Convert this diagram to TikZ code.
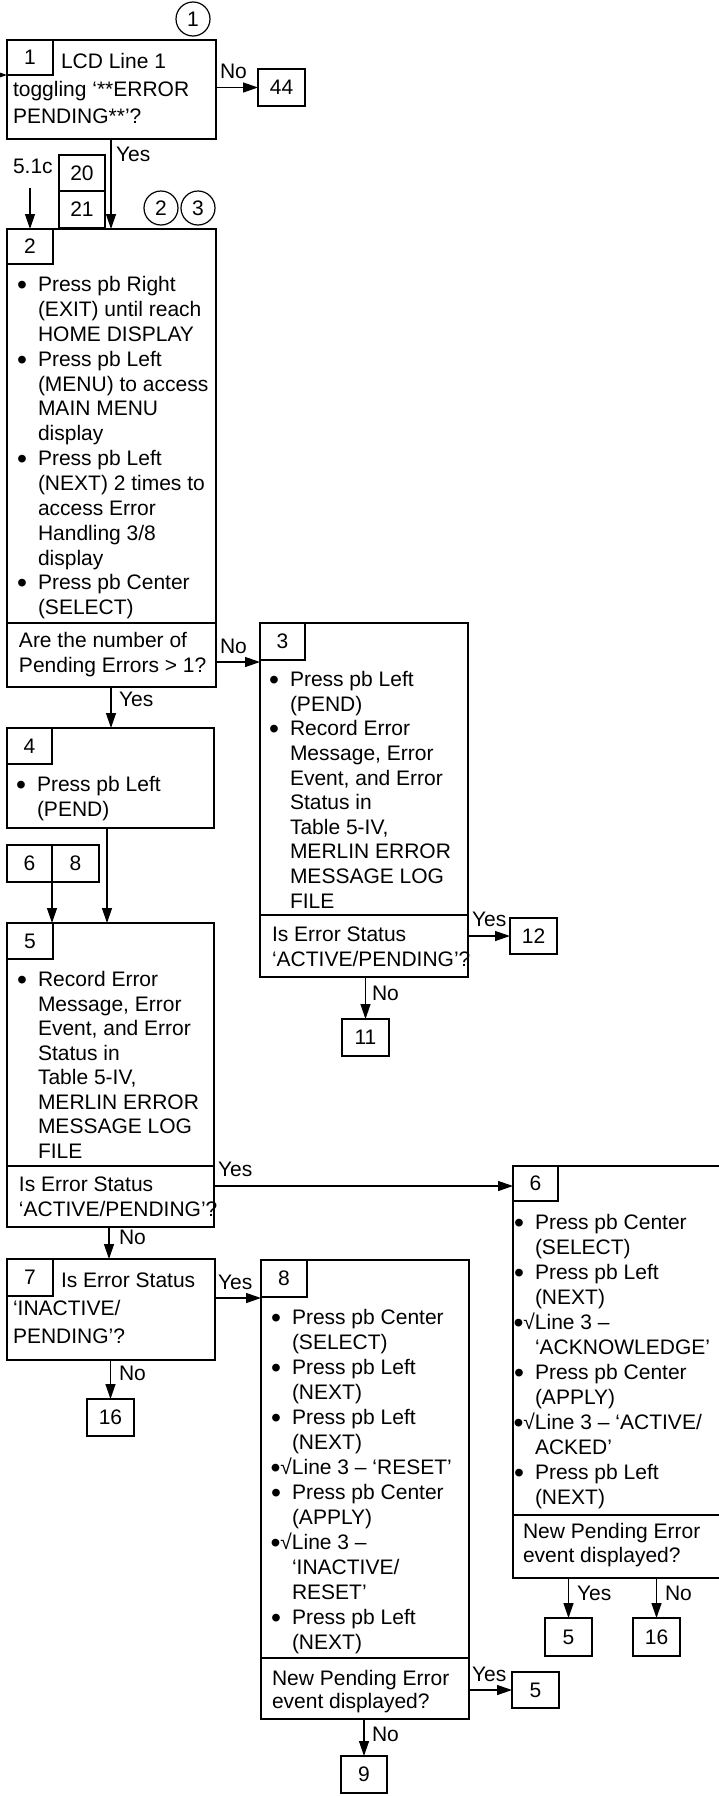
\documentclass[tikz,border=0pt]{standalone}
\usepackage{fontspec}
\setmainfont{Liberation Sans}
\usetikzlibrary{arrows.meta,calc}
\newcommand\Lines[2][24.8]{\vtop{\baselineskip=#1pt\lineskiplimit=-100pt\lineskip=0pt\halign{##\hfil\cr#2\crcr}}}
\newcommand\dotb{\raisebox{-3pt}{\scalebox{1.35}{•}}}
\newcommand\bul{\llap{\dotb\hspace{11pt}}}
\newcommand\chk{\kern-21.5pt\dotb√}
\newcommand\mk[7][frame]{\node[#1, minimum width=#5-#3, minimum height=#6-#4] (#2) at (#3,#4) {#7};}
\tikzset{
 frame/.style={draw, line width=1.9pt, inner sep=0pt, outer sep=0pt, anchor=north west},
 cell/.style={draw, line width=1.2pt, inner sep=0pt, outer sep=0pt, anchor=north west},
 small/.style={draw, line width=1.6pt, inner sep=0pt, outer sep=0pt, anchor=north west},
 txt/.style={anchor=base west, inner sep=0pt, outer sep=0pt},
 circ/.style={draw, circle, line width=1.2pt, minimum size=34pt, inner sep=0pt},
 arr/.style={line width=1.3pt, -{Triangle[length=15pt,width=10pt]}},
 ln/.style={line width=1.3pt},
 div/.style={line width=1.8pt},
}
\begin{document}
\begin{tikzpicture}[x=1pt,y=-1pt,font=\fontsize{21}{25}\selectfont]
\fill[white] (0,0) rectangle (718,1796);
\useasboundingbox (0,0) rectangle (718,1796);

% circles
\node[circ] (c1) at (193,19) {1};
\node[circ] (c2) at (161,208) {2};
\node[circ] (c3) at (198,208) {3};

% box 1
\mk{b1}{7}{40}{216}{139}{}
\mk[cell]{b1n}{7}{40}{53}{75}{1}
\node[txt] (t1) at (13,68.5) {\Lines[27.5]{\hspace*{48pt}LCD Line 1\cr toggling ‘**ERROR\cr PENDING**’?}};
\mk[small]{b44}{258}{69}{305}{106}{44}

% 20 / 21
\mk[small]{b20}{59}{155}{105}{191}{20}
\mk[small]{b21}{59}{191}{105}{228}{21}
\node[txt] (l51) at (13,173) {5.1c};
\coordinate (s51) at (30,188);

% box 2
\mk{b2}{7}{229}{216}{687}{}
\mk[cell]{b2n}{7}{229}{53}{264}{2}
\draw[div] (b2.west |- 0,623) -- (b2.east |- 0,623);
\node[txt] (t2) at (38,291.7) {\Lines[24.85]{\bul Press pb Right\cr (EXIT) until reach\cr HOME DISPLAY\cr \bul Press pb Left\cr (MENU) to access\cr MAIN MENU\cr display\cr \bul Press pb Left\cr (NEXT) 2 times to\cr access Error\cr Handling 3/8\cr display\cr \bul Press pb Center\cr (SELECT)}};
\node[txt] (q2) at (19,647.7) {\Lines[25]{Are the number of\cr Pending Errors > 1?}};

% box 3
\mk{b3}{260}{623}{468}{977}{}
\mk[cell]{b3n}{260}{623}{305}{660}{3}
\draw[div] (b3.west |- 0,915) -- (b3.east |- 0,915);
\node[txt] (t3) at (290,686.7) {\Lines[24.6]{\bul Press pb Left\cr (PEND)\cr \bul Record Error\cr Message, Error\cr Event, and Error\cr Status in\cr Table 5-IV,\cr MERLIN ERROR\cr MESSAGE LOG\cr FILE}};
\node[txt] (q3) at (272,941.7) {\Lines[25]{Is Error Status\cr ‘ACTIVE/PENDING’?}};
\mk[small]{b12}{510}{918}{557}{954}{12}
\mk[small]{b11}{342}{1019}{389}{1056}{11}

% box 4
\mk{b4}{7}{728}{214}{828}{}
\mk[cell]{b4n}{7}{728}{52}{764}{4}
\node[txt] (t4) at (37,791.7) {\Lines[25]{\bul Press pb Left\cr (PEND)}};

% 6 | 8
\mk[small]{b6a}{7}{845}{52}{882}{6}
\mk[small]{b8a}{52}{845}{99}{882}{8}

% box 5
\mk{b5}{7}{923}{214}{1227}{}
\mk[cell]{b5n}{7}{923}{53}{959}{5}
\draw[div] (b5.west |- 0,1166) -- (b5.east |- 0,1166);
\node[txt] (t5) at (38,986.7) {\Lines[24.5]{\bul Record Error\cr Message, Error\cr Event, and Error\cr Status in\cr Table 5-IV,\cr MERLIN ERROR\cr MESSAGE LOG\cr FILE}};
\node[txt] (q5) at (19,1191.7) {\Lines[24.5]{Is Error Status\cr ‘ACTIVE/PENDING’?}};

% box 7
\mk{b7}{7}{1259}{215}{1360}{}
\mk[cell]{b7n}{7}{1259}{53}{1296}{7}
\node[txt] (t7) at (13,1287.3) {\Lines[28.3]{\hspace*{48pt}Is Error Status\cr ‘INACTIVE/\cr PENDING’?}};
\mk[small]{b16}{87}{1399}{134}{1436}{16}

% box 8
\mk{b8}{261}{1260}{469}{1719}{}
\mk[cell]{b8n}{261}{1260}{307}{1297}{8}
\draw[div] (b8.west |- 0,1658) -- (b8.east |- 0,1658);
\node[txt] (t8) at (292,1324.2) {\Lines[25]{\bul Press pb Center\cr (SELECT)\cr \bul Press pb Left\cr (NEXT)\cr \bul Press pb Left\cr (NEXT)\cr \chk Line 3 – ‘RESET’\cr \bul Press pb Center\cr (APPLY)\cr \chk Line 3 –\cr ‘INACTIVE/\cr RESET’\cr \bul Press pb Left\cr (NEXT)}};
\node[txt] (q8) at (272,1685) {\Lines[23.5]{New Pending Error\cr event displayed?}};
\mk[small]{b5b}{512}{1672}{559}{1708}{5}
\mk[small]{b9}{341}{1756}{387}{1793}{9}

% box 6
\mk{b6}{513}{1166}{730}{1578}{}
\mk[cell]{b6n}{513}{1166}{558}{1201}{6}
\draw[div] (b6.west |- 0,1515) -- (b6.east |- 0,1515);
\node[txt] (t6) at (535,1229.2) {\Lines[25]{\bul Press pb Center\cr (SELECT)\cr \bul Press pb Left\cr (NEXT)\cr \chk Line 3 –\cr ‘ACKNOWLEDGE’\cr \bul Press pb Center\cr (APPLY)\cr \chk Line 3 – ‘ACTIVE/\cr ACKED’\cr \bul Press pb Left\cr (NEXT)}};
\node[txt] (q6) at (523,1538) {\Lines[24]{New Pending Error\cr event displayed?}};
\mk[small]{b5c}{545}{1618}{592}{1656}{5}
\mk[small]{b16b}{633}{1618}{680}{1656}{16}

% connectors
\coordinate (inL) at (-30,75);
\draw[arr] (inL) -- (b1.west |- inL);
\draw[arr] (b1.east |- b44.west) -- (b44.west);
\draw[arr] (b1.south -| 111,0) -- (b2.north -| 111,0);
\draw[arr] (s51) -- (s51 |- b2.north);
\draw[arr] (b2.east |- 0,662) -- (b3.west |- 0,662);
\draw[arr] (b2.south -| 111,0) -- (b4.north -| 111,0);
\draw[arr] (b3.east |- b12.west) -- (b12.west);
\draw[arr] (b3.south -| b11.north) -- (b11.north);
\draw[arr] (b4.south -| 107,0) -- (b5.north -| 107,0);
\draw[arr] (b6a.south east) -- (b6a.south east |- b5.north);
\draw[arr] (b5.east |- 0,1186) -- (b6.west |- 0,1186);
\draw[arr] (b5.south -| 109,0) -- (b7.north -| 109,0);
\draw[arr] (b7.east |- 0,1298) -- (b8.west |- 0,1298);
\draw[arr] (b7.south -| b16.north) -- (b16.north);
\draw[arr] (b8.east |- b5b.west) -- (b5b.west);
\draw[arr] (b8.south -| b9.north) -- (b9.north);
\draw[arr] (b6.south -| b5c.north) -- (b5c.north);
\draw[arr] (b6.south -| b16b.north) -- (b16b.north);

% labels
\node[txt] (n1) at (220,78) {No};
\node[txt] (y1) at (116,161.7) {Yes};
\node[txt] (n2) at (220,653) {No};
\node[txt] (y2) at (119,706.7) {Yes};
\node[txt] (y3) at (472,926.7) {Yes};
\node[txt] (n3) at (372,1000) {No};
\node[txt] (y5) at (218,1176.7) {Yes};
\node[txt] (n5) at (119,1244) {No};
\node[txt] (y7) at (218,1289) {Yes};
\node[txt] (n7) at (119,1380) {No};
\node[txt] (y8) at (472,1681.7) {Yes};
\node[txt] (n8) at (372,1741.7) {No};
\node[txt] (y6) at (577,1600) {Yes};
\node[txt] (n6) at (665,1600) {No};
\end{tikzpicture}
\end{document}
